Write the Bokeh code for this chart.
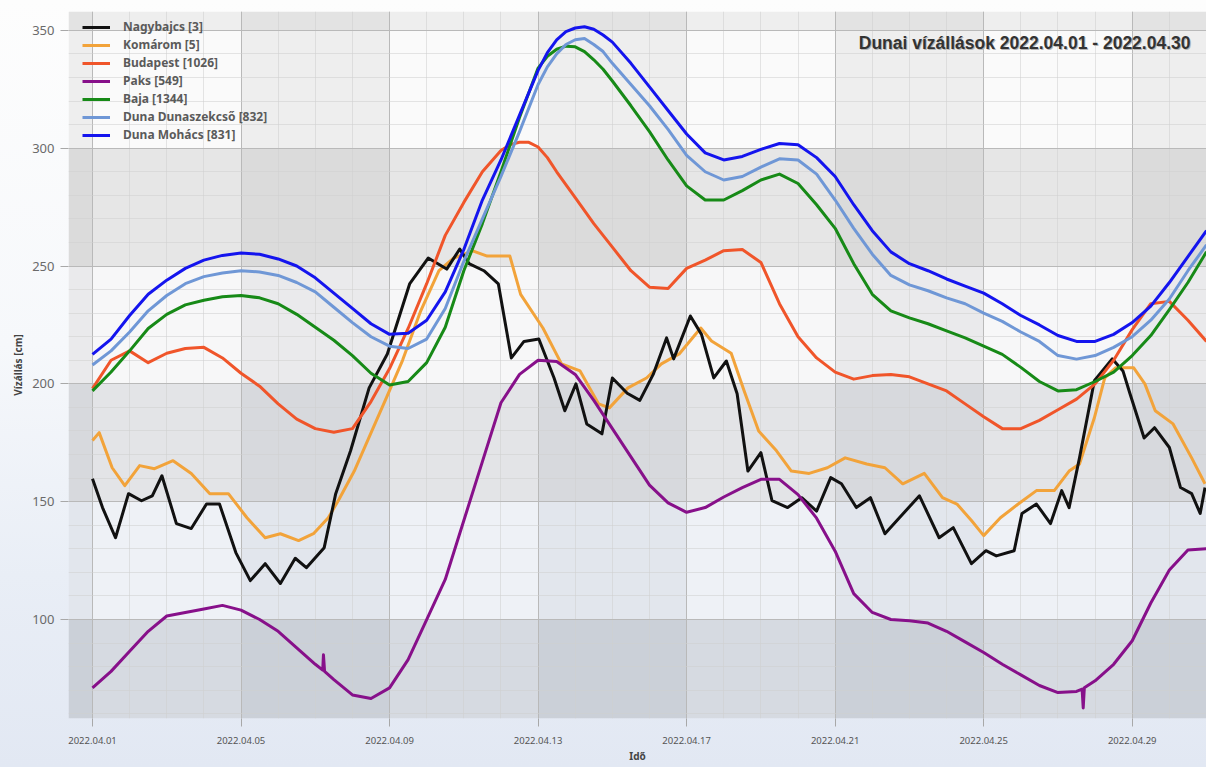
import numpy as np
import pandas as pd
from bokeh.plotting import figure
from bokeh.models import (Range1d, FixedTicker, DatetimeTickFormatter, Legend,
                          LegendItem, Label, ColumnDataSource)
from bokeh.embed import file_html
from bokeh.resources import INLINE

# ------------------------------------------------------------------ data
START = "2022-04-01"
END = "2022-05-01"
TITLE = "Dunai vízállások 2022.04.01 - 2022.04.30"
X_LABEL = "Idő"
Y_LABEL = "Vízállás [cm]"

# time in days after 2022-04-01 00:00, 12-hour steps for the smooth stations
t_half = [i / 2 for i in range(61)]

mohacs = [212.5, 219, 229, 238, 244, 249, 252.5, 254.5, 255.5, 255, 253,
          250, 245, 238.5, 232, 225.5, 221, 221.5, 227, 239, 257,
          278, 295, 314, 333, 346, 351, 350.5, 345, 336, 326,
          316, 306, 298, 295, 296.5, 299.5, 302, 301.5, 296, 288,
          276, 265, 256, 251, 248, 244.5, 241.5, 238.5, 234, 229,
          225, 220.5, 218, 218, 221, 226, 233, 243, 254, 265]
mohacs_extra_t = [12.25, 12.75, 13.25, 13.75]
mohacs_extra = [340.5, 349.5, 351.5, 348]

dunaszekcso = [208, 214, 222, 231, 237.5, 242.5, 245.5, 247, 248, 247.5, 246,
               243, 239, 232.5, 226, 220, 216, 215, 219, 232, 252,
               270, 288, 307, 327, 340, 346, 344, 336, 327, 318,
               308, 297, 290, 286.5, 288, 292, 295.5, 295, 289, 278,
               266, 255, 246, 242, 239.5, 236.5, 234, 230, 226.5, 222,
               218, 212, 210.5, 212, 215.5, 220, 227, 236, 248, 259]
dunaszekcso_extra_t = [12.25, 12.75, 13.25, 13.75]
dunaszekcso_extra = [334.5, 344, 346.5, 341]

baja = [197, 205, 214, 223.5, 229.5, 233.5, 235.5, 237, 237.5, 236.5, 234,
        229.5, 224, 218.5, 212, 204.5, 199.5, 201, 209, 224, 248,
        268, 290, 313, 334, 342, 343, 337.5, 328.5, 318, 307,
        295, 284, 278, 278, 282, 286.5, 289, 285, 276, 266,
        251, 238, 231, 228, 225.5, 222.5, 219.5, 216, 212.5, 207,
        201, 197, 197.5, 201, 205, 212, 220.5, 231.5, 243, 256]
baja_extra_t = [12.25, 12.75, 13.25, 13.75]
baja_extra = [339, 343.3, 341, 333.5]

budapest = [198, 210, 214, 209, 213, 215, 215.5, 211, 204.5, 199, 191.5,
            185, 181, 179.5, 181, 192.5, 206.5, 223.5, 242.5, 263, 277,
            290, 299, 302.5, 300.5, 290, 279, 268, 258, 248, 241,
            240.5, 249, 252.5, 256.5, 257, 251.5, 234, 220, 211, 205,
            202, 203.5, 204, 203, 200, 197, 191.5, 186, 181, 181,
            184.5, 189, 193.5, 200, 210, 223, 234, 235, 227, 218]
budapest_extra_t = [11.25, 11.75, 12.25]
budapest_extra = [301.5, 302.5, 296]

paks_t = [0, 0.5, 1, 1.5, 2, 2.5, 3, 3.5, 4, 4.5, 5, 5.5, 6, 6.2, 6.22, 6.25,
          6.5, 7, 7.5, 8, 8.5, 9, 9.5, 10, 10.5, 11, 11.5, 12, 12.5, 13, 13.5,
          14, 14.5, 15, 15.5, 16, 16.5, 17, 17.5, 18, 18.5, 19, 19.5, 20, 20.5,
          21, 21.5, 22, 22.5, 23, 23.5, 24, 24.5, 25, 25.5, 26, 26.5, 26.65,
          26.68, 26.71, 27, 27.5, 28, 28.5, 29, 29.5, 30]
paks = [71, 78, 86.5, 95, 101.5, 103, 104.5, 106, 104, 100, 95, 88, 81,
        78.5, 85, 78,
        74.5, 68, 66.5, 71, 83, 100, 117, 142, 167, 192,
        204, 210, 209.5, 204, 193, 181, 169, 157, 149.5, 145.5,
        147.5, 152, 156, 159.5, 159.5, 153, 143, 129, 111, 103,
        100, 99.5, 98.5, 95, 90.5, 86, 81, 76.5, 72, 69,
        69.5, 70.5, 62.5, 71,
        74, 81, 91, 107, 121, 129.5, 130]

nagybajcs_t = [0, 0.27, 0.62, 0.97, 1.32, 1.61, 1.87, 2.26, 2.66, 3.07,
               3.42, 3.86, 4.25, 4.65, 5.06, 5.46, 5.76, 6.24, 6.55, 6.95,
               7.45, 7.94, 8.54, 9.04, 9.54, 9.89, 10.14, 10.54, 10.93, 11.28,
               11.62, 12.02, 12.43, 12.72, 13.02, 13.31, 13.72, 14.0, 14.4, 14.74,
               15.1, 15.46, 15.65, 16.1, 16.4, 16.73, 17.07, 17.36, 17.65, 18.0,
               18.3, 18.72, 19.1, 19.5, 19.88, 20.17, 20.57, 20.95, 21.34, 21.73,
               22.27, 22.8, 23.18, 23.67, 24.06, 24.34, 24.82, 25.03, 25.42, 25.8,
               26.1, 26.3, 26.58, 26.98, 27.46, 27.75, 27.94, 28.32, 28.6, 29.0,
               29.3, 29.6, 29.83, 29.96]
nagybajcs = [159.7, 147.5, 134.7, 153.4, 150.4, 152.5, 161, 140.7, 138.6, 149,
             149, 128.4, 116.5, 123.7, 115.3, 126, 122, 130.5, 153.4, 171.6,
             198.3, 212.7, 242.4, 253.4, 248.7, 257.2, 251, 248, 242.4, 211,
             218, 219, 202.5, 188.6, 200, 183, 178.8, 202.5, 196, 193,
             204, 219.5, 210.6, 228.8, 221, 202.5, 209.7, 195.8, 163, 170.8,
             150.4, 147.5, 151.7, 146, 160.2, 157.6, 147.5, 151.7, 136.4, 143.2,
             152.5, 134.7, 139, 123.7, 129.2, 127, 129.2, 145, 149, 140.7,
             154.7, 147.5, 168.6, 201.3, 210.6, 205.5, 195.8, 177, 181.4, 173,
             156, 153.4, 145, 156]

komarom_t = [0, 0.18, 0.53, 0.87, 1.27, 1.67, 2.17, 2.66, 3.16, 3.66,
             4.16, 4.65, 5.06, 5.55, 5.95, 6.35, 6.64, 7.05, 7.55, 7.94,
             8.35, 8.84, 9.33, 9.73, 10.24, 10.63, 11.24, 11.53, 12.13, 12.63,
             13.13, 13.63, 13.92, 14.42, 14.92, 15.32, 15.8, 16.38, 16.67, 17.2,
             17.55, 17.94, 18.42, 18.82, 19.3, 19.79, 20.27, 20.85, 21.34, 21.82,
             22.4, 22.89, 23.28, 23.67, 24.0, 24.45, 24.93, 25.42, 25.9, 26.3,
             26.58, 26.98, 27.26, 27.55, 28.04, 28.34, 28.62, 29.1, 29.6, 29.96]
komarom = [176, 179.3, 164.4, 156.8, 165.3, 164, 167.4, 162, 153.4, 153.4,
           143.2, 134.7, 136.4, 133.5, 136.4, 143.2, 151, 163, 181, 195,
           210, 231, 248, 253.4, 256.4, 254.2, 254.2, 238, 223.7, 208.5,
           205.5, 191.5, 189.8, 198.3, 202.5, 208.5, 212.7, 223.7, 218.2, 213,
           197, 180, 171.6, 163, 162, 164.4, 168.6, 166, 164.4, 157.6,
           162, 151.7, 149, 142, 135.6, 143.2, 149, 154.7, 154.7, 163,
           166, 185.6, 202.5, 206.8, 206.8, 200, 188.6, 183, 168.6, 157.6]

series_names = ["Nagybajcs [3]", "Komárom [5]", "Budapest [1026]", "Paks [549]",
                "Baja [1344]", "Duna Dunaszekcső [832]", "Duna Mohács [831]"]
series_colors = ["#111111", "#f2a33a", "#f0552a", "#87108a",
                 "#178a17", "#6f97d6", "#1414ee"]

y_ticks = [100, 150, 200, 250, 300, 350]
y_min, y_max = 58, 358

# ------------------------------------------------------------------ helpers
T0 = pd.Timestamp(START)


def to_dt(days):
    return T0 + pd.to_timedelta(np.asarray(days, dtype=float), unit="D")


def merged(base_t, base_v, extra_t, extra_v):
    pairs = sorted(zip(list(base_t) + list(extra_t), list(base_v) + list(extra_v)))
    return [a for a, _ in pairs], [b for _, b in pairs]


def ms(ts):
    return ts.value / 1e6


x_start = ms(T0 - pd.Timedelta(days=0.646))
x_end = ms(pd.Timestamp(END))
major_x = [ms(T0 + pd.Timedelta(days=4 * k)) for k in range(8)]
minor_x = [ms(T0 + pd.Timedelta(days=k)) for k in range(31)]
minor_y = list(range(60, 360, 10))

p = figure(width=1206, height=767, x_axis_type="datetime",
           output_backend="svg", toolbar_location=None,
           x_range=Range1d(x_start, x_end), y_range=Range1d(y_min, y_max),
           min_border_left=68, min_border_right=0, min_border_top=11,
           min_border_bottom=49)
p.border_fill_alpha = 0
p.background_fill_alpha = 0
p.outline_line_color = None
p.styles = {"background": "linear-gradient(to bottom, #fdfdfd 0%, #f6f8fb 45%, #e9eef6 75%, #e2e8f3 100%)"}

# ---------------------------------------------------------- background cells
col_edges = [x_start] + major_x + [x_end]
row_edges = [y_min] + y_ticks + [y_max]
row_cols = [("#d6dae1", "#cbd0d8"),
            ("#eef1f6", "#e2e6ed"),
            ("#e3e4e7", "#d7d9dd"),
            ("#f7f7f8", "#eaeaec"),
            ("#e6e6e6", "#dbdbdb"),
            ("#fafafa", "#eeeeee"),
            ("#eeeeee", "#e3e3e3")]
L, R, B, T, C = [], [], [], [], []
for ri in range(len(row_edges) - 1):
    for ci in range(len(col_edges) - 1):
        L.append(col_edges[ci]); R.append(col_edges[ci + 1])
        B.append(row_edges[ri]); T.append(row_edges[ri + 1])
        C.append(row_cols[ri][1] if ci % 2 == 0 else row_cols[ri][0])
bg = p.quad(left="l", right="r", bottom="b", top="t", fill_color="c", line_color=None,
            source=ColumnDataSource(dict(l=L, r=R, b=B, t=T, c=C)))
bg.level = "image"

# ---------------------------------------------------------- axes & grid
p.xaxis.ticker = FixedTicker(ticks=major_x, minor_ticks=minor_x)
p.yaxis.ticker = FixedTicker(ticks=y_ticks, minor_ticks=minor_y)
fmt = "%Y.%m.%d"
p.xaxis.formatter = DatetimeTickFormatter(days=fmt, months=fmt, hours=fmt,
                                          hourmin=fmt, years=fmt)
for ax in (p.xaxis[0], p.yaxis[0]):
    ax.axis_line_color = None
    ax.major_tick_in = 0
    ax.major_tick_out = 8
    ax.major_tick_line_color = "#a8a8a8"
    ax.minor_tick_line_color = None
    ax.major_label_text_font = "Noto Sans"
    ax.axis_label_text_font = "Noto Sans"
    ax.axis_label_text_font_size = "10px"
    ax.axis_label_text_font_style = "bold"
    ax.axis_label_text_color = "#444444"
p.xaxis.major_label_text_font_size = "9.5px"
p.xaxis.major_label_text_color = "#555555"
p.xaxis.major_label_standoff = 10
p.xaxis.axis_label = X_LABEL
p.xaxis.axis_label_standoff = 2
p.yaxis.major_label_text_font_size = "13px"
p.yaxis.major_label_text_color = "#6a6a6a"
p.yaxis.major_label_standoff = 6
p.yaxis.axis_label = Y_LABEL
p.yaxis.axis_label_standoff = 4

p.xgrid.ticker = p.xaxis.ticker
p.ygrid.ticker = p.yaxis.ticker
for g in (p.xgrid[0], p.ygrid[0]):
    g.grid_line_color = "#b9b9b9"
    g.grid_line_width = 1
    g.minor_grid_line_color = "#cfcfcf"
    g.minor_grid_line_alpha = 0.55

# ---------------------------------------------------------- lines
mo_t, mo_v = merged(t_half, mohacs, mohacs_extra_t, mohacs_extra)
ds_t, ds_v = merged(t_half, dunaszekcso, dunaszekcso_extra_t, dunaszekcso_extra)
ba_t, ba_v = merged(t_half, baja, baja_extra_t, baja_extra)
bu_t, bu_v = merged(t_half, budapest, budapest_extra_t, budapest_extra)

times = [to_dt(nagybajcs_t), to_dt(komarom_t), to_dt(bu_t), to_dt(paks_t),
         to_dt(ba_t), to_dt(ds_t), to_dt(mo_t)]
values = [nagybajcs, komarom, bu_v, paks, ba_v, ds_v, mo_v]
draw_order = [1, 0, 3, 2, 4, 5, 6]
renderers = {}
for i in draw_order:
    renderers[i] = p.line(times[i], values[i], line_color=series_colors[i],
                          line_width=3, line_join="round")

legend = Legend(items=[LegendItem(label=series_names[i], renderers=[renderers[i]])
                       for i in range(7)],
                location=(12, 573), orientation="vertical")
legend.background_fill_alpha = 0
legend.border_line_alpha = 0
legend.padding = 2
legend.margin = 0
legend.spacing = 1
legend.glyph_width = 28
legend.glyph_height = 14
legend.label_height = 14
legend.label_standoff = 13
legend.label_text_font = "Noto Sans"
legend.label_text_font_size = "12px"
legend.label_text_font_style = "bold"
legend.label_text_color = "#5a5a5a"
p.add_layout(legend)

# ---------------------------------------------------------- title
p.add_layout(Label(x=1123, y=675, x_units="screen", y_units="screen", text=TITLE,
                   text_align="right", text_baseline="middle",
                   text_font="Liberation Sans", text_font_size="17.5px",
                   text_font_style="bold", text_color="#b5b5b5"))
p.add_layout(Label(x=1122, y=676, x_units="screen", y_units="screen", text=TITLE,
                   text_align="right", text_baseline="middle",
                   text_font="Liberation Sans", text_font_size="17.5px",
                   text_font_style="bold", text_color="#333333"))

open("out.html", "w").write(file_html(p, INLINE))
